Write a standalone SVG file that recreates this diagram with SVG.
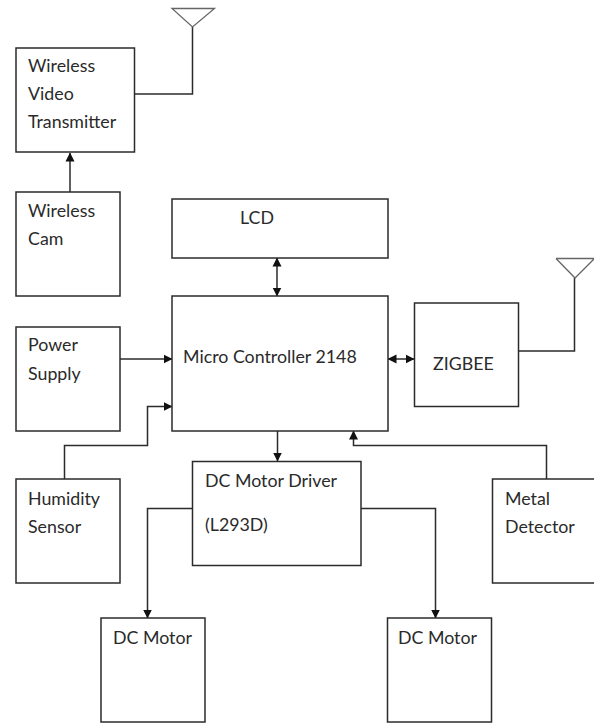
<svg xmlns="http://www.w3.org/2000/svg" width="594" height="723" viewBox="0 0 594 723">
<style>
.b{fill:#fff;stroke:#2b2b2b;stroke-width:1.5}
.c{fill:none;stroke:#2b2b2b;stroke-width:1.5}
.a{fill:none;stroke:#666;stroke-width:1.3}
text{font-family:Lato,"Open Sans","DejaVu Sans",sans-serif;font-size:17.8px;fill:#2a2a2a}
</style>
<defs>
<marker id="e" markerWidth="9" markerHeight="10" refX="8.500" refY="5" orient="auto-start-reverse" markerUnits="userSpaceOnUse"><path d="M0 0.500L9 5L0 9.500Z" fill="#111"/></marker>
</defs>
<rect width="594" height="723" fill="#fff"/>
<g id="connectors">
<path class="c" d="M135 94H192.500V27"/>
<path class="c" d="M70 192V153" marker-end="url(#e)"/>
<path class="c" d="M277 258V296" marker-start="url(#e)" marker-end="url(#e)"/>
<path class="c" d="M120 359H172" marker-end="url(#e)"/>
<path class="c" d="M64.500 479V445.500H147.500V406.500H172" marker-end="url(#e)"/>
<path class="c" d="M388 359H414" marker-start="url(#e)" marker-end="url(#e)"/>
<path class="c" d="M519 351H574.500V278"/>
<path class="c" d="M277.500 431V461" marker-end="url(#e)"/>
<path class="c" d="M546.500 479V445.500H353.500V431" marker-end="url(#e)"/>
<path class="c" d="M192 508.500H147.500V618" marker-end="url(#e)"/>
<path class="c" d="M361 508.500H435.500V618" marker-end="url(#e)"/>
</g>
<g id="antenna-1"><path class="a" d="M172 8.500H214.500L192.500 27Z"/></g>
<g id="antenna-2"><path class="a" d="M556 258.500H594M556 258.500L575 278L594 259"/></g>
<g id="video-tx"><rect class="b" x="16" y="48" width="118.500" height="104"/><text x="28" y="72">Wireless</text><text x="28" y="100">Video</text><text x="28" y="127.500">Transmitter</text></g>
<g id="cam"><rect class="b" x="16" y="192" width="104" height="104"/><text x="28" y="216.500">Wireless</text><text x="28" y="244.500">Cam</text></g>
<g id="lcd"><rect class="b" x="172" y="199" width="216" height="59"/><text x="240" y="223.500">LCD</text></g>
<g id="mcu"><rect class="b" x="172" y="296" width="216" height="135"/><text x="183" y="362.500">Micro Controller 2148</text></g>
<g id="zigbee"><rect class="b" x="414.500" y="303" width="104" height="103.500"/><text x="433" y="369.500">ZIGBEE</text></g>
<g id="power"><rect class="b" x="16" y="327" width="104" height="104"/><text x="28" y="350.500">Power</text><text x="28" y="379.500">Supply</text></g>
<g id="humidity"><rect class="b" x="16" y="479" width="104" height="104"/><text x="28" y="504.500">Humidity</text><text x="28" y="532.500">Sensor</text></g>
<g id="driver"><rect class="b" x="192.500" y="461.500" width="168.500" height="104"/><text x="205" y="486.500">DC Motor Driver</text><text x="205" y="530.500">(L293D)</text></g>
<g id="metal"><rect class="b" x="492.500" y="479" width="110" height="104"/><text x="505" y="504.500">Metal</text><text x="505" y="532.500">Detector</text></g>
<g id="motor-1"><rect class="b" x="101" y="618" width="104" height="104"/><text x="113" y="643.500">DC Motor</text></g>
<g id="motor-2"><rect class="b" x="387.500" y="618" width="104" height="104"/><text x="398" y="643.500">DC Motor</text></g>
</svg>
